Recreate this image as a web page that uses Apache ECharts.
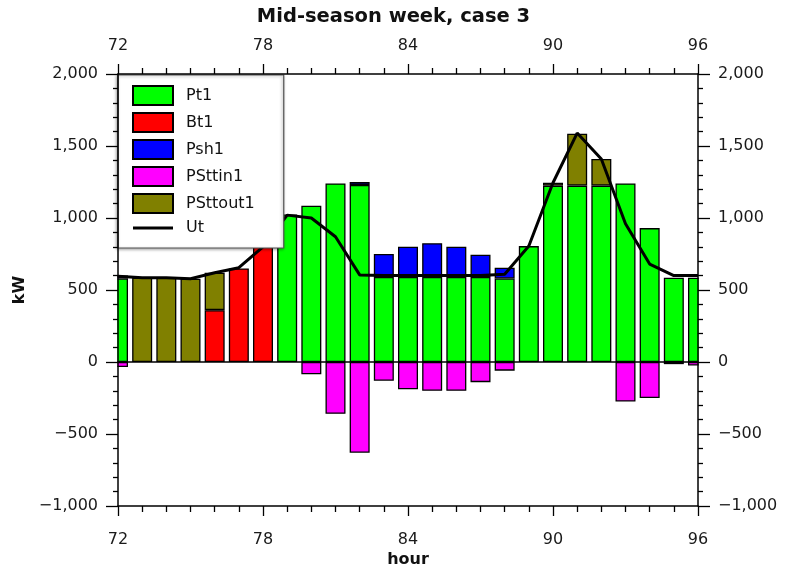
<!DOCTYPE html>
<html>
<head>
<meta charset="utf-8">
<script src="https://cdn.jsdelivr.net/npm/echarts@6/dist/echarts.min.js"></script>
<style>
  html, body { margin: 0; padding: 0; background: #fff; }
  #chart { width: 787px; height: 573px; }
</style>
</head>
<body>
<div id="chart"></div>
<script>
// Hourly dispatch, hours 72..96 (kW). null = no contribution that hour.
const hours = [72, 73, 74, 75, 76, 77, 78, 79, 80, 81, 82, 83, 84, 85, 86, 87, 88, 89, 90, 91, 92, 93, 94, 95, 96];
const pt1      = [580, null, null, null, null, null, null, 1025, 1085, 1240, 1230, 590, 590, 590, 590, 590, 580, 805, 1225, 1225, 1225, 1240, 930, 585, 585];
const bt1      = [null, null, null, null, 360, 650, 800, null, null, null, null, null, null, null, null, null, null, null, null, null, null, null, null, null, null];
const psh1     = [20, null, null, null, null, null, null, null, null, null, 20, 160, 210, 235, 210, 155, 75, null, null, null, null, null, null, null, null];
const psttin1  = [-35, null, null, null, null, null, null, null, -85, -360, -630, -130, -190, -200, -200, -140, -60, null, null, null, null, -275, -250, -15, -25];
const psttout1 = [null, 585, 585, 578, 260, null, null, null, null, null, null, null, null, null, null, null, null, null, 20, 360, 185, null, null, null, null];
const ut       = [595, 585, 585, 578, 620, 655, 800, 1020, 1000, 870, 605, 600, 600, 600, 600, 600, 610, 805, 1245, 1590, 1410, 960, 680, 600, 600];

const xTicks = { min: 72, max: 96, interval: 6 };
const yTicks = { min: -1000, max: 2000, interval: 500 };

const FONT = 'DejaVu Sans';
const GRID = { left: 118, right: 89, top: 74, bottom: 66 };
const W = 787, H = 573;

const vals = arr => arr.map(v => (v == null ? '-' : v));
const fmtNum = v => {
  const s = Math.abs(v).toString().replace(/\B(?=(\d{3})+(?!\d))/g, ',');
  return (v < 0 ? '\u2212' : '') + s;
};

const barStyle = color => ({ color: color, borderColor: '#000', borderWidth: 1.3 });

// Visible hour scales (bottom and top); ticks every hour, labels every 6 h.
const xAxisBase = (pos, margin) => ({
  type: 'value', position: pos, min: xTicks.min, max: xTicks.max, interval: xTicks.interval, z: 10,
  axisLine: { show: true, onZero: false, lineStyle: { color: '#000', width: 1.5 } },
  axisTick: { show: true, length: 10, lineStyle: { color: '#000', width: 1.3 } },
  minorTick: { show: true, splitNumber: 6, length: 6, lineStyle: { color: '#000', width: 1.3 } },
  splitLine: { show: false },
  axisLabel: { color: '#1a1a1a', fontFamily: FONT, fontSize: 16, margin: margin }
});

const yAxisBase = pos => ({
  type: 'value', position: pos, min: yTicks.min, max: yTicks.max, interval: yTicks.interval, z: 10,
  axisLine: { show: true, onZero: false, lineStyle: { color: '#000', width: 1.5 } },
  axisTick: { show: true, length: 12, lineStyle: { color: '#000', width: 1.3 } },
  minorTick: { show: true, splitNumber: 5, length: 5, lineStyle: { color: '#000', width: 1.3 } },
  splitLine: { show: false },
  axisLabel: { color: '#1a1a1a', fontFamily: FONT, fontSize: 16, margin: 20, formatter: fmtNum }
});

const chart = echarts.init(document.getElementById('chart'), null, { renderer: 'canvas' });

chart.setOption({
  animation: false,
  backgroundColor: '#fff',
  title: {
    text: 'Mid-season week, case 3', left: 'center', top: 2,
    textStyle: { fontFamily: FONT, fontSize: 19.5, fontWeight: 'bold', color: '#111' }
  },
  grid: Object.assign({ show: false }, GRID),
  xAxis: [
    Object.assign(xAxisBase('bottom', 26), {
      name: 'hour', nameLocation: 'middle', nameGap: 46, nameMoveOverlap: false,
      nameTextStyle: { fontFamily: FONT, fontSize: 16, fontWeight: 'bold', color: '#111' }
    }),
    xAxisBase('top', 20),
    // Hidden hour-category axis carrying the bars and the Ut line (one slot per hour,
    // 72 on the left edge and 96 on the right edge, same span as the visible scale).
    { type: 'category', data: hours.map(String), boundaryGap: false, show: false, position: 'bottom' }
  ],
  yAxis: [
    Object.assign(yAxisBase('left'), {
      name: 'kW', nameLocation: 'middle', nameGap: 90, nameRotate: 90,
      nameTextStyle: { fontFamily: FONT, fontSize: 16, fontWeight: 'bold', color: '#111' }
    }),
    yAxisBase('right')
  ],
  // White side panels trim the half bars at hour 72 and 96 to the plot frame.
  graphic: [
    { type: 'rect', z: 5, silent: true,
      shape: { x: GRID.left - 22, y: GRID.top, width: 21.3, height: H - GRID.top - GRID.bottom },
      style: { fill: '#fff' } },
    { type: 'rect', z: 5, silent: true,
      shape: { x: W - GRID.right + 0.7, y: GRID.top, width: 21.3, height: H - GRID.top - GRID.bottom },
      style: { fill: '#fff' } }
  ],
  legend: {
    orient: 'vertical', left: 118, top: 75, z: 6,
    itemWidth: 40, itemHeight: 19, itemGap: 6,
    padding: [10, 29, 12, 14],
    backgroundColor: '#fff', borderColor: '#555', borderWidth: 1.2,
    shadowColor: 'rgba(0,0,0,0.35)', shadowBlur: 3, shadowOffsetX: -1, shadowOffsetY: 1,
    textStyle: { fontFamily: FONT, fontSize: 16, color: '#111', padding: [0, 0, 0, 8] },
    data: [
      { name: 'Pt1', icon: 'rect' },
      { name: 'Bt1', icon: 'rect' },
      { name: 'Psh1', icon: 'rect' },
      { name: 'PSttin1', icon: 'rect' },
      { name: 'PSttout1', icon: 'rect' },
      { name: 'Ut', icon: 'path://M0,0H40V3H0Z', itemStyle: { color: '#000', borderWidth: 0 } }
    ]
  },
  series: [
    {
      name: 'Pt1', type: 'bar', stack: 'p', xAxisIndex: 2, barWidth: 20, data: vals(pt1), itemStyle: barStyle('#00ff00'),
      markLine: {
        silent: true, symbol: 'none', label: { show: false },
        lineStyle: { color: '#000', width: 1.5, type: 'solid' },
        data: [{ yAxis: 0 }]
      }
    },
    { name: 'Bt1', type: 'bar', stack: 'p', xAxisIndex: 2, barWidth: 20, data: vals(bt1), itemStyle: barStyle('#ff0000') },
    { name: 'Psh1', type: 'bar', stack: 'p', xAxisIndex: 2, barWidth: 20, data: vals(psh1), itemStyle: barStyle('#0000ff') },
    { name: 'PSttin1', type: 'bar', stack: 'p', xAxisIndex: 2, barWidth: 20, data: vals(psttin1), itemStyle: barStyle('#ff00ff') },
    { name: 'PSttout1', type: 'bar', stack: 'p', xAxisIndex: 2, barWidth: 20, data: vals(psttout1), itemStyle: barStyle('#808000') },
    {
      name: 'Ut', type: 'line', xAxisIndex: 2, data: vals(ut), symbol: 'none', showSymbol: false, z: 3,
      lineStyle: { color: '#000', width: 3 }, itemStyle: { color: '#000' }
    }
  ]
});
</script>
</body>
</html>
